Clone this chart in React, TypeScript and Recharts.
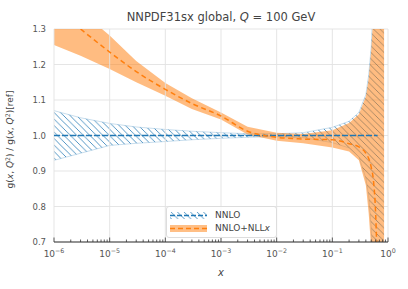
import React from 'react';
import {
  ComposedChart,
  Area,
  Line,
  XAxis,
  YAxis,
  CartesianGrid,
  ReferenceLine,
  Legend,
} from 'recharts';

const FONT = '"DejaVu Sans", sans-serif';
const BLUE = '#1f77b4';
const ORANGE = '#ff7f0e';
const GRID = '#e2e2e2';

// x grid points (log scale)
const xValues = [
  1e-6, 3e-6, 1e-5, 3e-5, 1e-4, 3e-4, 1e-3, 3e-3, 1e-2, 3e-2, 0.1, 0.2,
  0.3, 0.4, 0.45, 0.5, 0.55, 0.6, 0.65, 0.7, 0.75, 0.8, 0.85,
];

// NNLO band (ratio to itself)
const nnloCentral = [
  1, 1, 1, 1, 1, 1, 1, 1, 1, 1, 1, 1, 1, 1, 1, 1, 1, 1, 1, null, null, null, null,
];
const nnloLow = [
  0.93, 0.95, 0.972, 0.978, 0.983, 0.988, 0.992, 0.995, 0.997, 0.994, 0.98, 0.965,
  0.94, 0.88, 0.83, 0.74, 0.6, 0.45, 0.3, 0.2, 0.2, 0.2, 0.2,
];
const nnloHigh = [
  1.07, 1.05, 1.034, 1.024, 1.017, 1.012, 1.008, 1.005, 1.005, 1.008, 1.023, 1.04,
  1.065, 1.115, 1.17, 1.25, 1.4, 1.55, 1.7, 1.8, 1.8, 1.8, 1.8,
];

// NNLO+NLLx band
const nllxCentral = [
  1.36, 1.3, 1.235, 1.18, 1.13, 1.09, 1.055, 1.012, 0.995, 0.99, 0.988, 0.977,
  0.968, 0.95, 0.935, 0.91, 0.87, 0.78, 0.6, null, null, null, null,
];
const nllxLow = [
  1.255, 1.225, 1.187, 1.15, 1.112, 1.075, 1.045, 1.003, 0.985, 0.978, 0.966, 0.955,
  0.93, 0.86, 0.78, 0.68, 0.5, 0.4, 0.3, 0.3, 0.3, 0.3, 0.3,
];
const nllxHigh = [
  1.41, 1.35, 1.282, 1.21, 1.148, 1.105, 1.065, 1.025, 1.008, 1.004, 1.015, 1.035,
  1.06, 1.11, 1.16, 1.24, 1.35, 1.5, 1.7, 1.8, 1.8, 1.8, 1.8,
];

const majorTicks = [1e-6, 1e-5, 1e-4, 1e-3, 1e-2, 1e-1, 1];
const majorLabels = ['\u22126', '\u22125', '\u22124', '\u22123', '\u22122', '\u22121', '0'];
const yTicks = [0.7, 0.8, 0.9, 1.0, 1.1, 1.2, 1.3];
const legendNames = ['NNLO', 'NNLO+NLL'];

const minorTicks: number[] = [];
majorTicks.slice(0, -1).forEach((d) => {
  for (let m = 2; m <= 9; m++) minorTicks.push(d * m);
});
const allTicks = [...majorTicks, ...minorTicks];

const data = xValues.map((x, i) => ({
  x,
  nnloBand: [nnloLow[i], nnloHigh[i]],
  nnloCentral: nnloCentral[i],
  nllxBand: [nllxLow[i], nllxHigh[i]],
  nllxCentral: nllxCentral[i],
}));

function Hatch({ id }: { id: string }) {
  return (
    <pattern id={id} patternUnits="userSpaceOnUse" width={6.5} height={6.5}>
      <path
        d="M0,0 L6.5,6.5 M-1.5,5 L1.5,8 M5,-1.5 L8,1.5"
        stroke={BLUE}
        strokeOpacity={0.9}
        strokeWidth={0.85}
      />
    </pattern>
  );
}

function XTick(props: any) {
  const { x, y, payload } = props;
  const idx = majorTicks.findIndex((t) => Math.abs(t - payload.value) < t * 1e-6);
  const major = idx >= 0;
  return (
    <g>
      <line x1={x} x2={x} y1={y} y2={y - (major ? 4.5 : 2.5)} stroke="#333" strokeWidth={0.8} />
      {major && (
        <text x={x} y={y + 15} textAnchor="middle" fill="#555" fontSize={9} fontFamily={FONT}>
          <tspan>10</tspan>
          <tspan dy={-4} fontSize={6.3}>{majorLabels[idx]}</tspan>
        </text>
      )}
    </g>
  );
}

function YLabel(props: any) {
  const vb = props.viewBox || { x: 0, y: 0, width: 54, height: 213 };
  const cx = 13;
  const cy = vb.y + vb.height / 2 + 4;
  return (
    <text
      x={cx}
      y={cy}
      transform={`rotate(-90 ${cx} ${cy})`}
      textAnchor="middle"
      fill="#444"
      fontSize={9}
      fontFamily={FONT}
    >
      g(<tspan fontStyle="italic">x</tspan>, <tspan fontStyle="italic">Q</tspan>
      <tspan dy={-3} fontSize={6.3}>2</tspan>
      <tspan dy={3}>) / g(</tspan>
      <tspan fontStyle="italic">x</tspan>, <tspan fontStyle="italic">Q</tspan>
      <tspan dy={-3} fontSize={6.3}>2</tspan>
      <tspan dy={3}>)[ref]</tspan>
    </text>
  );
}

function XLabel(props: any) {
  const vb = props.viewBox || { x: 54, y: 242, width: 334, height: 47 };
  return (
    <text
      x={vb.x + vb.width / 2}
      y={vb.y + 34}
      textAnchor="middle"
      fill="#444"
      fontSize={10}
      fontStyle="italic"
      fontFamily={FONT}
    >
      x
    </text>
  );
}

function LegendBox() {
  return (
    <div
      style={{
        background: 'rgba(255,255,255,0.85)',
        border: '1px solid #ddd',
        borderRadius: 3,
        padding: '2px 6px 2px 3px',
        fontFamily: FONT,
        fontSize: 9,
        color: '#444',
        lineHeight: '13px',
      }}
    >
      <div style={{ display: 'flex', alignItems: 'center' }}>
        <svg width={37} height={9} style={{ marginRight: 8 }}>
          <defs>
            <Hatch id="hatchLeg" />
          </defs>
          <rect x={0} y={1} width={37} height={7} fill="url(#hatchLeg)" />
          <line x1={0} x2={37} y1={4.5} y2={4.5} stroke={BLUE} strokeWidth={1.3} strokeDasharray="5 2" />
        </svg>
        <span>{legendNames[0]}</span>
      </div>
      <div style={{ display: 'flex', alignItems: 'center' }}>
        <svg width={37} height={9} style={{ marginRight: 8 }}>
          <rect x={0} y={1} width={37} height={7} fill={ORANGE} fillOpacity={0.5} />
          <line x1={0} x2={37} y1={4.5} y2={4.5} stroke={ORANGE} strokeWidth={1.5} strokeDasharray="5 3" />
        </svg>
        <span>
          {legendNames[1]}
          <i>x</i>
        </span>
      </div>
    </div>
  );
}

export default function App() {
  return (
    <div style={{ position: 'absolute', left: 0, top: 0, width: 408, height: 289, background: '#fff' }}>
      <div
        style={{
          position: 'absolute',
          left: 54,
          top: 10,
          width: 334,
          textAlign: 'center',
          fontFamily: FONT,
          fontSize: 11.5,
          color: '#444',
          whiteSpace: 'nowrap',
        }}
      >
        NNPDF31sx global, <i>Q</i> = 100 GeV
      </div>
      <ComposedChart
        width={408}
        height={289}
        data={data}
        margin={{ top: 29, right: 20, bottom: 0, left: 0 }}
      >
        <defs>
          <Hatch id="hatchBlue" />
        </defs>
        <CartesianGrid vertical={false} stroke={GRID} strokeWidth={0.9} />
        {majorTicks.map((t) => (
          <ReferenceLine key={t} x={t} stroke={GRID} strokeWidth={0.9} />
        ))}
        <XAxis
          dataKey="x"
          type="number"
          scale="log"
          domain={[1e-6, 1]}
          allowDataOverflow
          ticks={allTicks}
          interval={0}
          tick={<XTick />}
          tickLine={false}
          tickSize={0}
          tickMargin={0}
          axisLine={{ stroke: '#333', strokeWidth: 1 }}
          height={47}
          label={{ content: <XLabel /> }}
        />
        <YAxis
          type="number"
          domain={[0.7, 1.3]}
          allowDataOverflow
          ticks={yTicks}
          tickFormatter={(v: number) => v.toFixed(1)}
          tick={{ fill: '#555', fontSize: 8.5, fontFamily: FONT }}
          axisLine={false}
          tickLine={false}
          tickSize={0}
          tickMargin={8}
          width={54}
          label={{ content: <YLabel /> }}
        />
        <Area
          dataKey="nnloBand"
          type="linear"
          fill="url(#hatchBlue)"
          fillOpacity={1}
          stroke={BLUE}
          strokeOpacity={0.3}
          strokeWidth={0.8}
          isAnimationActive={false}
          activeDot={false}
        />
        <Area
          dataKey="nllxBand"
          type="linear"
          fill={ORANGE}
          fillOpacity={0.52}
          stroke="none"
          isAnimationActive={false}
          activeDot={false}
        />
        <Line
          dataKey="nnloCentral"
          type="linear"
          stroke={BLUE}
          strokeWidth={1.4}
          strokeDasharray="6 2"
          dot={false}
          isAnimationActive={false}
        />
        <Line
          dataKey="nllxCentral"
          type="monotone"
          stroke={ORANGE}
          strokeWidth={1.5}
          strokeDasharray="5 3.5"
          dot={false}
          isAnimationActive={false}
        />
        <Legend
          layout="vertical"
          align="center"
          verticalAlign="middle"
          content={<LegendBox />}
          wrapperStyle={{ position: 'absolute', left: 166, top: 206, width: 'auto' }}
        />
      </ComposedChart>
    </div>
  );
}
